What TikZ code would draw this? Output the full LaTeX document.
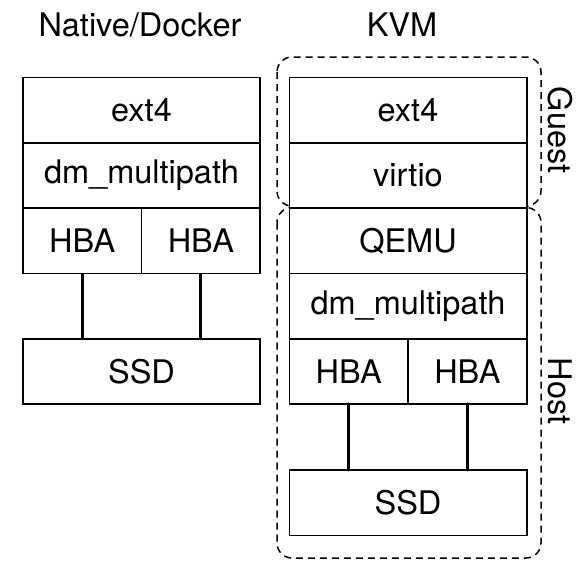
\documentclass[tikz,border=0pt]{standalone}
\usepackage{fontspec}
\setmainfont{TeX Gyre Heros}
\begin{document}
\begin{tikzpicture}[x=1pt,y=-1pt,
  lbl/.style={font=\fontsize{32.5}{38}\selectfont, inner sep=0pt},
  layer/.style={draw, line width=1.6pt, fill=white, inner sep=0pt, outer sep=0pt,
    minimum width=237.4pt, minimum height=65.3pt, font=\fontsize{32.5}{38}\selectfont},
  half/.style={layer, minimum width=118.7pt},
  link/.style={line width=3.2pt},
  zone/.style={draw, line width=1.5pt, dash pattern=on 7pt off 5pt, rounded corners=15pt}]
\useasboundingbox (0,0) rectangle (582,566);
% zones
\draw[zone] (277,57) rectangle (541,206);
\draw[zone] (277,207.5) rectangle (541,558);
% titles
\node[lbl, anchor=base] (tleft) at (140,36) {Native/Docker};
\node[lbl, anchor=base] (tright) at (402,36) {KVM};
\node[lbl, rotate=-90] (guest) at (560,130) {Guest};
\node[lbl, rotate=-90] (host) at (560.5,391) {Host};
% left stack
\node[layer] (l1) at (141.5,110.15) {ext4};
\node[layer] (l2) at (141.5,175.45) {dm\_multipath};
\node[half] (l3a) at (82.15,240.75) {HBA};
\node[half] (l3b) at (200.85,240.75) {HBA};
\node[layer] (lssd) at (141.5,371.35) {SSD};
\draw[link] (l3a.south) -- (l3a.south |- lssd.north);
\draw[link] (l3b.south) -- (l3b.south |- lssd.north);
% right stack
\node[layer] (r1) at (408,110.15) {ext4};
\node[layer] (r2) at (408,175.45) {virtio};
\node[layer] (r3) at (408,240.75) {QEMU};
\node[layer] (r4) at (408,306.05) {dm\_multipath};
\node[half] (r5a) at (348.65,371.35) {HBA};
\node[half] (r5b) at (467.35,371.35) {HBA};
\node[layer] (rssd) at (408,502.65) {SSD};
\draw[link, line cap=round] (r5a.south) -- (r5a.south |- rssd.north);
\draw[link, line cap=round] (r5b.south) -- (r5b.south |- rssd.north);
\end{tikzpicture}
\end{document}
